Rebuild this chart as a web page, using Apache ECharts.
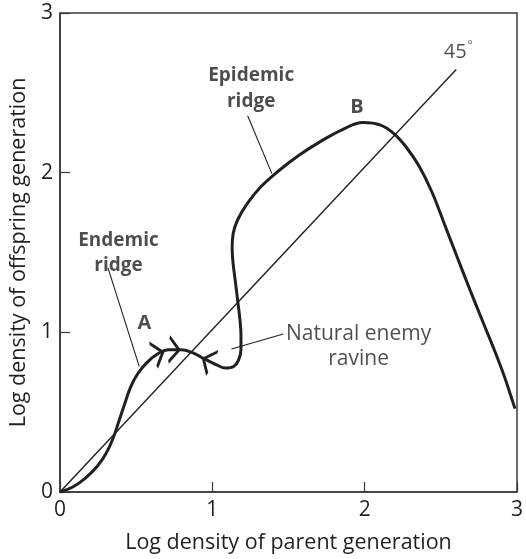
<!DOCTYPE html>
<html>
<head>
<meta charset="utf-8">
<script src="https://cdn.jsdelivr.net/npm/echarts/dist/echarts.min.js"></script>
<style>
html,body{margin:0;padding:0;background:#fff;}
#chart{width:526px;height:559px;}
</style>
</head>
<body>
<div id="chart"></div>
<script>
// Axis ticks
const xTicks = [0, 1, 2, 3];
const yTicks = [0, 1, 2, 3];

// Reproduction curve (log parent density -> log offspring density), in drawing order
const curveX = [0, 0.084, 0.167, 0.245, 0.303, 0.348, 0.386, 0.425, 0.464, 0.509, 0.567, 0.637, 0.715, 0.792, 0.869, 0.946, 1.024, 1.088, 1.140, 1.172, 1.188, 1.188, 1.181, 1.168, 1.152, 1.136, 1.130, 1.136, 1.165, 1.230, 1.320, 1.436, 1.564, 1.706, 1.848, 1.989, 2.105, 2.195, 2.272, 2.356, 2.440, 2.524, 2.607, 2.691, 2.775, 2.852, 2.916, 2.955, 2.987];
const curveY = [0, 0.031, 0.087, 0.161, 0.242, 0.335, 0.441, 0.553, 0.658, 0.739, 0.807, 0.863, 0.891, 0.891, 0.873, 0.835, 0.798, 0.776, 0.786, 0.826, 0.894, 0.981, 1.081, 1.186, 1.311, 1.435, 1.528, 1.615, 1.702, 1.807, 1.913, 2.012, 2.106, 2.193, 2.267, 2.314, 2.298, 2.242, 2.161, 2.043, 1.882, 1.677, 1.472, 1.267, 1.068, 0.888, 0.727, 0.615, 0.522];

// 45 degree replacement line
const diagX = [0, 2.601];
const diagY = [0, 2.646];

// Direction arrows on the curve: x, y, angle (deg)
const arrowX = [0.644, 0.749, 0.971];
const arrowY = [0.866, 0.891, 0.821];
const arrowAngle = [18, -3, 155];

// Text annotations
const labelText = ['A', 'B', 'Endemic\nridge', 'Epidemic\nridge', 'Natural enemy\nravine', '45°'];
const labelX = [0.554, 1.949, 0.384, 1.255, 1.960, 2.614];
const labelY = [1.056, 2.410, 1.497, 2.525, 0.912, 2.752];
const labelBold = [true, true, true, true, false, false];
const labelSize = [20, 20, 19, 19, 21, 20];

// Leader lines
const leaderX1 = [0.315, 1.232, 1.125];
const leaderY1 = [1.404, 2.356, 0.896];
const leaderX2 = [0.520, 1.391, 1.466];
const leaderY2 = [0.787, 1.994, 0.989];

const FONT = '"Open Sans", "Noto Sans", sans-serif';
const INK = '#231f20';
const FRAME = '#3a3a3a';

const chart = echarts.init(document.getElementById('chart'), null, {renderer: 'canvas'});

const curveData = curveX.map((x, i) => [x, curveY[i]]);
const diagData = diagX.map((x, i) => [x, diagY[i]]);

const arrowPoints = arrowX.map((x, i) => ({
  coord: [x, arrowY[i]],
  symbol: 'path://M0,0 L10,12 L0,24',
  symbolSize: [10, 25],
  symbolKeepAspect: false,
  symbolRotate: arrowAngle[i],
  itemStyle: {color: 'rgba(0,0,0,0)', borderColor: INK, borderWidth: 2.6},
  label: {show: false}
}));

const labelData = labelText.map((t, i) => ({
  value: [labelX[i], labelY[i]],
  name: t,
  label: {
    show: true,
    position: 'inside',
    formatter: t === '45°' ? '45{deg|°}' : t,
    fontFamily: FONT,
    fontSize: labelSize[i],
    fontWeight: labelBold[i] ? 'bold' : 'normal',
    color: INK,
    textBorderWidth: 0,
    lineHeight: 25.5,
    align: 'center',
    verticalAlign: 'middle',
    rich: {deg: {fontSize: 12, verticalAlign: 'top', padding: [0, 0, 10, 1], fontFamily: FONT, color: INK}}
  }
}));

const leaderLines = leaderX1.map((x, i) => [
  {coord: [x, leaderY1[i]]},
  {coord: [leaderX2[i], leaderY2[i]]}
]);

const option = {
  animation: false,
  backgroundColor: '#fff',
  grid: {left: 57, right: 3, top: 13, bottom: 63, show: true, borderColor: FRAME, borderWidth: 1.5, backgroundColor: 'transparent'},
  xAxis: {
    type: 'value', min: xTicks[0], max: xTicks[xTicks.length - 1], interval: 1,
    name: 'Log density of parent generation', nameLocation: 'middle', nameGap: 40,
    nameTextStyle: {fontFamily: FONT, fontSize: 21.5, color: INK},
    axisLine: {onZero: false, lineStyle: {color: FRAME, width: 1.5}},
    axisTick: {inside: true, length: 10, lineStyle: {color: FRAME, width: 1.2}},
    axisLabel: {fontFamily: FONT, fontSize: 21, color: INK, margin: 8, showMinLabel: true, showMaxLabel: true},
    splitLine: {show: false}
  },
  yAxis: {
    type: 'value', min: yTicks[0], max: yTicks[yTicks.length - 1], interval: 1,
    name: 'Log density of offspring generation', nameLocation: 'middle', nameGap: 30,
    nameTextStyle: {fontFamily: FONT, fontSize: 21.5, color: INK},
    axisLine: {onZero: false, lineStyle: {color: FRAME, width: 1.5}},
    axisTick: {inside: true, length: 10, lineStyle: {color: FRAME, width: 1.2}},
    axisLabel: {fontFamily: FONT, fontSize: 21, color: INK, margin: 7},
    splitLine: {show: false}
  },
  series: [
    {
      type: 'line', data: diagData, showSymbol: false, silent: true,
      lineStyle: {color: INK, width: 1.4}
    },
    {
      type: 'line', data: curveData, showSymbol: false, smooth: 0.4, silent: true,
      lineStyle: {color: INK, width: 3},
      markPoint: {silent: true, data: arrowPoints},
      markLine: {silent: true, symbol: ['none', 'none'], label: {show: false},
        lineStyle: {color: INK, width: 1.1, type: 'solid'}, data: leaderLines}
    },
    {
      type: 'scatter', data: labelData, symbolSize: 0, silent: true
    }
  ]
};
chart.setOption(option);
</script>
</body>
</html>
